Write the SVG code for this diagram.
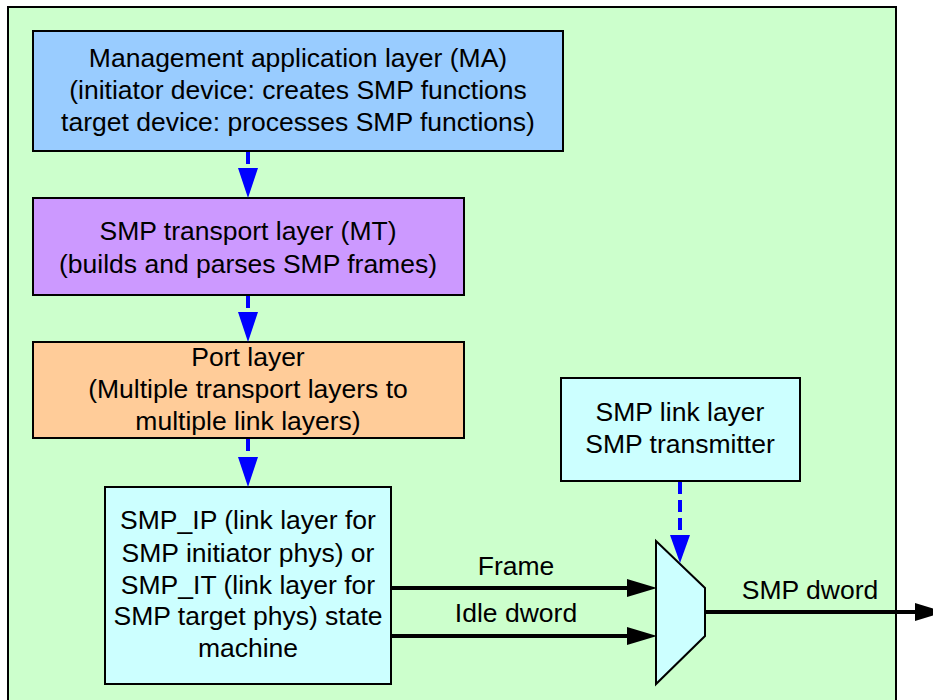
<svg xmlns="http://www.w3.org/2000/svg" width="933" height="700" viewBox="0 0 933 700">
<defs>
<style>
.t{font-family:"Liberation Sans",Arial,sans-serif;font-size:26.5px;fill:#000;text-anchor:middle}
.box{stroke:#000;stroke-width:2}
.dash{stroke:#0000FF;stroke-width:4;stroke-dasharray:12,6;fill:none}
.solid{stroke:#000;stroke-width:4;fill:none}
</style>
</defs>
<rect x="8" y="7" width="888" height="720" fill="#CCFFCC" stroke="#000" stroke-width="2"/>
<g id="ma">
<rect class="box" x="33" y="31" width="530" height="120" fill="#99CCFF"/>
<text class="t" x="298" y="67">Management application layer (MA)</text>
<text class="t" x="298" y="99">(initiator device: creates SMP functions</text>
<text class="t" x="298" y="131">target device: processes SMP functions)</text>
</g>
<g id="mt">
<rect class="box" x="33" y="198" width="431" height="97" fill="#CC99FF"/>
<text class="t" x="248" y="240">SMP transport layer (MT)</text>
<text class="t" x="248" y="273">(builds and parses SMP frames)</text>
</g>
<g id="port">
<rect class="box" x="33" y="342" width="431" height="96" fill="#FFCC99"/>
<text class="t" x="248" y="366">Port layer</text>
<text class="t" x="248" y="398">(Multiple transport layers to</text>
<text class="t" x="248" y="430">multiple link layers)</text>
</g>
<g id="smpip">
<rect class="box" x="105" y="487" width="286" height="197" fill="#CCFFFF"/>
<text class="t" x="248" y="529">SMP_IP (link layer for</text>
<text class="t" x="248" y="562">SMP initiator phys) or</text>
<text class="t" x="248" y="594">SMP_IT (link layer for</text>
<text class="t" x="248" y="625">SMP target phys) state</text>
<text class="t" x="248" y="657">machine</text>
</g>
<g id="smplink">
<rect class="box" x="561" y="378" width="239" height="103" fill="#CCFFFF"/>
<text class="t" x="680" y="421">SMP link layer</text>
<text class="t" x="680" y="453">SMP transmitter</text>
</g>
<g id="mux">
<polygon class="box" points="656,541 705,588 705,636 656,684" fill="#CCFFFF"/>
</g>
<g id="connectors">
<line class="dash" x1="248" y1="152" x2="248" y2="170"/>
<path d="M238,168 L258,168 L248,198 Z" fill="#0000FF"/>
<line class="dash" x1="248" y1="296" x2="248" y2="314"/>
<path d="M238,312 L258,312 L248,342 Z" fill="#0000FF"/>
<line class="dash" x1="248" y1="439" x2="248" y2="459"/>
<path d="M238,457 L258,457 L248,487 Z" fill="#0000FF"/>
<line class="dash" x1="680" y1="482" x2="680" y2="537"/>
<path d="M670,535 L690,535 L680,563 Z" fill="#0000FF"/>
<line class="solid" x1="391" y1="588" x2="630" y2="588"/>
<path d="M627,579 L657,588 L627,597 Z" fill="#000"/>
<line class="solid" x1="391" y1="636" x2="630" y2="636"/>
<path d="M627,627 L657,636 L627,645 Z" fill="#000"/>
<line class="solid" x1="705" y1="612" x2="918" y2="612"/>
<path d="M915,603 L945,612 L915,621 Z" fill="#000"/>
<text class="t" x="516" y="575">Frame</text>
<text class="t" x="516" y="622">Idle dword</text>
<text class="t" x="810" y="599">SMP dword</text>
</g>
</svg>
